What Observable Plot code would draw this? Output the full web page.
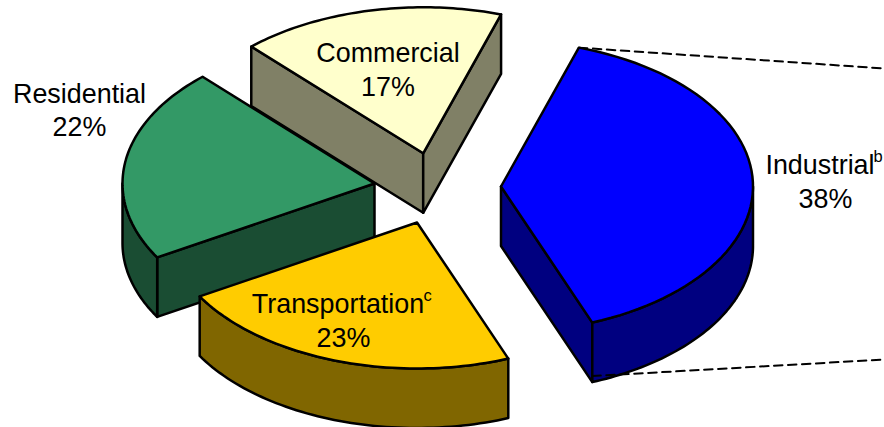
<!DOCTYPE html>
<html><head><meta charset="utf-8">
<style>html,body{margin:0;padding:0;background:#fff}svg{display:block}</style>
<script src="https://cdn.jsdelivr.net/npm/d3@7"></script>
<script src="https://cdn.jsdelivr.net/npm/@observablehq/plot@0.6"></script>
</head><body><script>
// Data: in clockwise drawing order starting at Industrial
const sectors = ["Industrial", "Transportation", "Residential", "Commercial"];
const percents = [38, 23, 22, 17];
const notes = ["b", "c", "", ""];
// Apparent slice share
const drawnShares = [39.1, 22.45, 21.5, 16.95];
const topColors = ["#0000FF", "#FFCC00", "#339966", "#FFFFCC"];
const wallColors = ["#000080", "#806600", "#1A4D33", "#808066"];

// Projection of the 3D pie
const rx = 252, ry = 146, depth = 59.5, startAngle = 18;
const apexX = [500.5, 416.5, 374, 422.7];
const apexY = [186, 222, 183, 152.8];
const paintOrder = [3, 2, 1, 0];
const labelX = [825, 343, 79, 387.5];
const labelY = [165, 304, 93.5, 53];
const noteGap = [48, 80, 0, 0];

const rad = d => d * Math.PI / 180;
let acc = startAngle;
const slices = sectors.map((name, i) => {
  const t0 = acc, t1 = acc + drawnShares[i] * 3.6;
  acc = t1;
  const pt = (t, dz = 0) => ({x: apexX[i] + rx * Math.sin(rad(t)), y: apexY[i] - ry * Math.cos(rad(t)) + dz});
  const apex = (dz = 0) => ({x: apexX[i], y: apexY[i] + dz});
  const arc = (a, b, dz = 0) => d3.range(0, 61).map(k => pt(a + (b - a) * k / 60, dz));
  const walls = [];
  // radial walls facing the viewer
  if (Math.sin(rad(t0)) < 0) walls.push([apex(), pt(t0), pt(t0, depth), apex(depth)]);
  if (Math.sin(rad(t1)) > 0) walls.push([apex(), pt(t1), pt(t1, depth), apex(depth)]);
  // rim wall: the front half of the ellipse
  for (const off of [-360, 0, 360]) {
    const a = Math.max(t0, 90 + off), b = Math.min(t1, 270 + off);
    if (a < b) walls.push([...arc(a, b), ...arc(a, b, depth).reverse()]);
  }
  const top = [apex(), ...arc(t0, t1)];
  return {i, name, walls, top, pt, t0, t1};
});

const close = p => [...p, p[0]];
const poly = (p, fill) => Plot.line(close(p), {x: "x", y: "y", fill, stroke: "#000", strokeWidth: 2.5, strokeLinejoin: "round"});

const marks = [];
for (const i of paintOrder) {
  const s = slices[i];
  for (const w of s.walls) marks.push(poly(w, wallColors[i]));
  marks.push(poly(s.top, topColors[i]));
}

// Leader lines of the Industrial slice, out to the right edge
const ind = slices[0];
const leaders = [
  [ind.pt(ind.t0), {x: 884, y: 68}],
  [{x: ind.pt(ind.t1).x, y: ind.pt(ind.t1, depth).y - 6}, {x: 884, y: 359}]
];
for (const l of leaders) marks.push(Plot.line(l, {x: "x", y: "y", stroke: "#000", strokeWidth: 2, strokeDasharray: "8.5,5.5"}));

const textStyle = {fontFamily: "'Liberation Sans', Arial, sans-serif", fill: "#000", lineAnchor: "middle"};
const rows = sectors.map((name, i) => ({name, pct: percents[i] + "%", note: notes[i], i}));
marks.push(Plot.text(rows, {...textStyle, x: d => labelX[d.i] - (d.note ? 5.5 : 0), y: d => labelY[d.i], text: "name", fontSize: 26.9}));
marks.push(Plot.text(rows, {...textStyle, x: d => labelX[d.i], y: d => labelY[d.i] + 33.5, text: "pct", fontSize: 26.9}));
marks.push(Plot.text(rows.filter(d => d.note), {...textStyle, x: d => labelX[d.i] + noteGap[d.i], y: d => labelY[d.i] - 9, text: "note", fontSize: 16.5, textAnchor: "start"}));

document.body.append(Plot.plot({
  width: 884, height: 427, margin: 0,
  x: {domain: [0, 884], range: [0, 884], axis: null},
  y: {domain: [0, 427], range: [0, 427], axis: null},
  style: {background: "#fff"},
  marks
}));
</script></body></html>
